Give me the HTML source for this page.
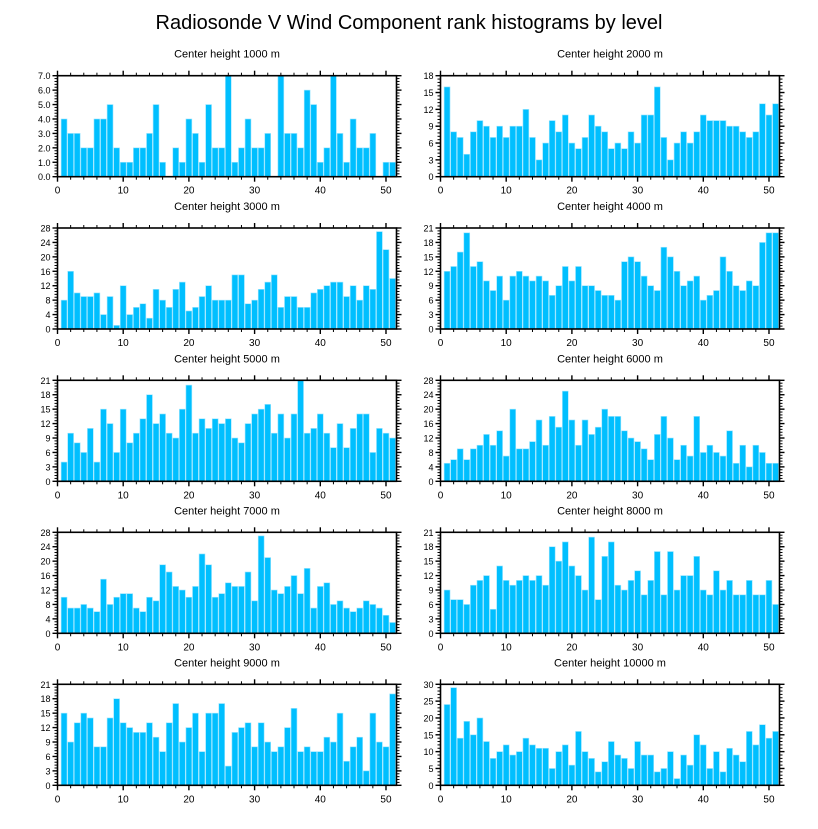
<!DOCTYPE html>
<html><head><meta charset="utf-8"><style>
body{margin:0;background:#fff;}
svg text{font-family:"Liberation Sans",sans-serif;fill:#000;}
</style></head><body>
<svg id="chart" width="818" height="824" xmlns="http://www.w3.org/2000/svg">
<text x="409" y="29" text-anchor="middle" font-size="20">Radiosonde V Wind Component rank histograms by level</text>
</svg>
<script>
const levels = ["1000","2000","3000","4000","5000","6000","7000","8000","9000","10000"];
const yMaxes = [7,18,28,21,21,28,28,21,21,30];
const ySteps = [1,3,4,3,3,4,4,3,3,5];
const xTicks = [0,10,20,30,40,50];
const v1000 = [4,3,3,2,2,4,4,5,2,1,1,2,2,3,5,1,0,2,1,4,3,1,5,2,2,7,1,2,4,2,2,3,0,7,3,3,2,6,5,1,2,7,3,1,4,2,2,3,0,1,1];
const v2000 = [16,8,7,4,8,10,9,7,9,7,9,9,12,7,3,6,10,8,11,6,5,7,11,9,8,5,6,5,8,6,11,11,16,7,3,6,8,6,8,11,10,10,10,9,9,8,7,8,13,11,13];
const v3000 = [8,16,10,9,9,10,4,9,1,12,4,6,7,3,11,8,6,11,13,5,6,9,12,8,8,8,15,15,7,8,11,13,15,6,9,9,6,6,10,11,12,13,13,9,12,8,12,11,27,22,14];
const v4000 = [12,13,16,20,13,14,10,8,11,6,11,12,11,10,11,10,7,9,13,10,13,9,9,8,7,7,6,14,15,14,11,9,8,17,15,12,9,10,11,6,7,8,15,12,9,8,10,9,18,20,20];
const v5000 = [4,10,8,6,11,4,15,12,6,15,8,10,13,18,12,14,10,9,15,20,10,13,11,13,12,13,9,8,12,14,15,16,10,14,9,14,21,10,11,14,10,7,12,7,11,14,14,6,11,10,9];
const v6000 = [5,6,9,6,9,10,13,10,14,7,20,9,9,11,17,10,18,15,25,17,10,17,13,15,20,18,18,14,12,11,9,6,13,18,12,6,10,7,18,8,10,8,7,14,5,10,4,10,8,5,5];
const v7000 = [10,7,7,8,7,6,15,8,10,11,11,7,6,10,9,19,17,13,12,10,13,22,19,10,11,14,13,13,17,9,27,21,12,11,13,16,11,18,7,13,14,8,9,7,6,7,9,8,7,5,3];
const v8000 = [9,7,7,6,10,11,12,5,14,11,10,11,12,11,12,10,18,15,19,14,12,9,20,7,16,19,10,9,11,13,8,11,17,8,17,9,12,12,16,9,8,13,9,11,8,8,11,8,8,11,6];
const v9000 = [15,9,13,15,14,8,8,14,18,13,12,11,11,13,10,7,13,17,9,12,15,7,15,15,17,4,11,12,13,8,13,9,7,8,12,16,7,8,7,7,10,9,15,5,8,10,3,15,9,8,19];
const v10000 = [24,29,14,19,15,20,13,8,10,12,9,10,14,12,11,11,5,10,12,6,16,10,8,4,7,13,9,8,5,13,9,9,4,5,10,2,9,6,15,12,5,10,4,11,9,7,16,12,18,14,16];
const allValues = [v1000,v2000,v3000,v4000,v5000,v6000,v7000,v8000,v9000,v10000];

const svg = document.getElementById('chart');
const NS = "http://www.w3.org/2000/svg";
function mk(tag, attrs, parent){
  const e = document.createElementNS(NS, tag);
  for (const k in attrs) e.setAttribute(k, attrs[k]);
  parent.appendChild(e); return e;
}
const XMAX = 51.6, PW = 339, PH = 101;
const lefts = [57.5, 440.5];
const tops = [75.7, 228, 380.3, 532.3, 684.3];

allValues.forEach((vals, p) => {
  const col = p % 2, row = Math.floor(p/2);
  const L = lefts[col], T = tops[row], B = T + PH, R = L + PW;
  const ymax = yMaxes[p], ystep = ySteps[p];
  const xs = v => L + v / XMAX * PW;
  const ys = v => B - v / ymax * PH;
  const g = mk('g', {}, svg);
  
  
  const t = mk('text', {x: (L+R)/2, y: T - 18, 'text-anchor':'middle', 'font-size':'11'}, g);
  
  
  t.textContent = 'Center height ' + levels[p] + ' m';
  vals.forEach((v, i) => {
    const x0 = xs(i + 1 - 0.45), x1 = xs(i + 1 + 0.45);
    const r = mk('rect', {x: x0, y: ys(v), width: x1 - x0, height: B - ys(v), fill:'#00bfff', stroke:'#9fe6ff', 'stroke-width':'0.6'}, g);
    
    
  });
  const fr = mk('rect', {x: L, y: T, width: PW, height: PH, fill:'none', stroke:'#000', 'stroke-width':'1.6'}, g);
  
  
  // x ticks
  for (let m = 0; m <= 51; m += 2) {
    const x = xs(m), major = m % 10 === 0, len = major ? 5 : 3;
    mk('line', {x1:x, x2:x, y1:B, y2:B+len, stroke:'#000', 'stroke-width': major?1.4:1}, g);
    mk('line', {x1:x, x2:x, y1:T, y2:T-len, stroke:'#000', 'stroke-width': major?1.4:1}, g);
  }
  xTicks.forEach(tv => {
    const tl = mk('text', {x: xs(tv), y: B + 17, 'text-anchor':'middle', 'font-size':'10'}, g);
    
    
    tl.textContent = tv;
  });
  // y ticks
  const minor = ystep / 5;
  for (let k = 0; k <= Math.round(ymax / minor); k++) {
    const v = k * minor, y = ys(v), major = k % 5 === 0, len = major ? 5 : 3;
    mk('line', {x1:L, x2:L-len, y1:y, y2:y, stroke:'#000', 'stroke-width': major?1.4:1}, g);
    mk('line', {x1:R, x2:R+len, y1:y, y2:y, stroke:'#000', 'stroke-width': major?1.4:1}, g);
  }
  for (let v = 0; v <= ymax + 1e-9; v += ystep) {
    const tl = mk('text', {x: L - 7, y: ys(v) + 3.5, 'text-anchor':'end', 'font-size':'9'}, g);
    
    
    tl.textContent = p === 0 ? v.toFixed(1) : v;
  }
});
</script>
</body></html>
